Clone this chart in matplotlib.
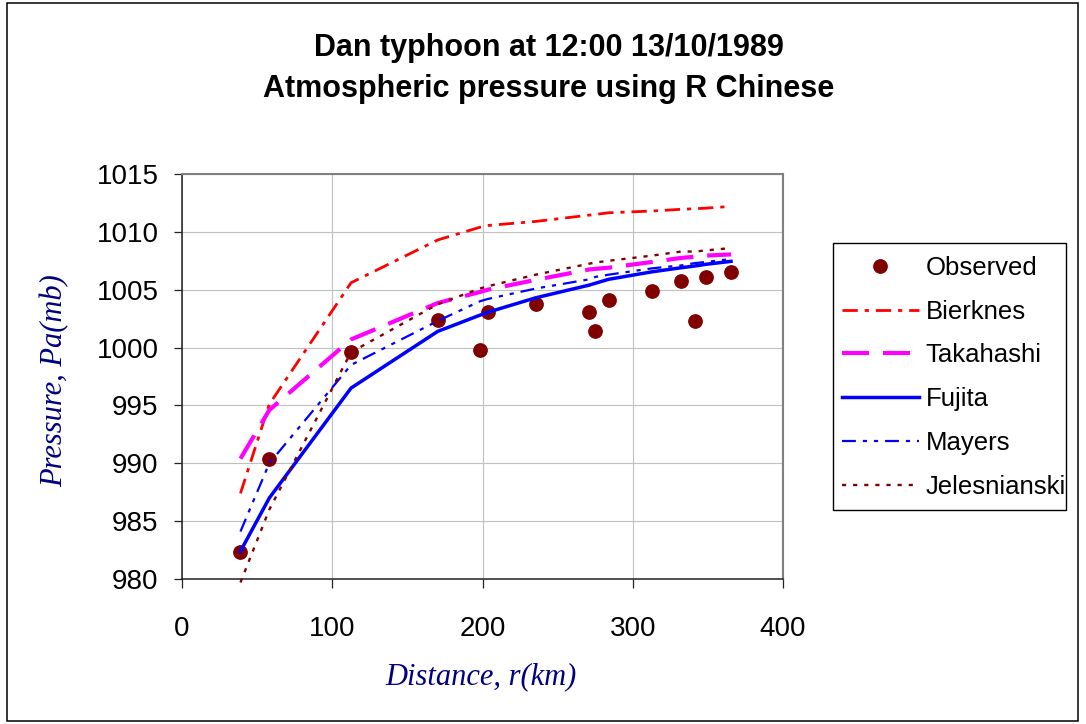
import matplotlib
matplotlib.use("Agg")
import matplotlib.pyplot as plt
from matplotlib.patches import Rectangle

plt.rcParams["font.family"] = ["Liberation Sans", "DejaVu Sans"]
plt.rcParams["lines.scale_dashes"] = False

# distance from typhoon centre (km), one value per station
distance = [38.9, 58.1, 112.5, 170.2, 198.3, 203.5, 235.4, 271.1, 274.9,
            284.0, 313.0, 332.3, 341.4, 348.9, 365.4]

observed = [982.3, 990.4, 999.6, 1002.4, 999.8, 1003.1, 1003.8, 1003.1, 1001.4,
            1004.1, 1004.9, 1005.75, 1002.3, 1006.1, 1006.55]

bierknes = [987.4, 995.1, 1005.6, 1009.3, 1010.4, 1010.55, 1010.9, 1011.45, 1011.5,
            1011.65, 1011.8, 1011.95, 1012.0, 1012.05, 1012.2]
takahashi = [990.4, 994.6, 1000.7, 1003.85, 1004.8, 1005.0, 1005.85, 1006.75, 1006.8,
             1006.9, 1007.4, 1007.75, 1007.85, 1007.95, 1008.05]
fujita = [982.4, 987.0, 996.5, 1001.4, 1002.8, 1003.05, 1004.3, 1005.4, 1005.55,
          1005.9, 1006.55, 1006.9, 1007.05, 1007.2, 1007.45]
mayers = [984.1, 990.0, 998.5, 1002.3, 1004.0, 1004.2, 1005.1, 1005.9, 1006.1,
          1006.3, 1006.85, 1007.1, 1007.3, 1007.4, 1007.65]
jelesnianski = [979.7, 986.0, 999.6, 1003.75, 1005.1, 1005.3, 1006.3, 1007.25, 1007.35,
                1007.5, 1007.95, 1008.3, 1008.3, 1008.4, 1008.6]

x_ticks = [0, 100, 200, 300, 400]
y_ticks = [980, 985, 990, 995, 1000, 1005, 1010, 1015]

W, H = 1086, 724
fig = plt.figure(figsize=(W / 100, H / 100), dpi=100)
ax = fig.add_axes([182 / W, 1 - 579 / H, (783 - 182) / W, (579 - 174) / H])

# outer chart border
fig.patches.append(Rectangle((7 / W, 3 / H), (1078 - 7) / W, (721 - 3) / H,
                             transform=fig.transFigure, fill=False,
                             edgecolor="black", linewidth=1.1))

ax.plot(distance, observed, linestyle="none", marker="o", markersize=9.6,
        color="#800000", label="Observed", zorder=3)
ax.plot(distance, bierknes, color="#FF0000", linewidth=2.0,
        linestyle=(0, (11, 5, 3, 5)), label="Bierknes", zorder=4)
ax.plot(distance, takahashi, color="#FF00FF", linewidth=3.0,
        linestyle=(0, (19.5, 10)), label="Takahashi", zorder=4)
ax.plot(distance, fujita, color="#0000FF", linewidth=2.5,
        linestyle="-", label="Fujita", zorder=4)
ax.plot(distance, mayers, color="#0000FF", linewidth=1.6,
        linestyle=(0, (10, 5, 3, 5, 3, 5)), label="Mayers", zorder=4)
ax.plot(distance, jelesnianski, color="#800000", linewidth=1.7,
        linestyle=(0, (3, 5)), label="Jelesnianski", zorder=4, clip_on=False)

ax.set_xlim(0, 400)
ax.set_ylim(980, 1015)
ax.set_xticks(x_ticks)
ax.set_yticks(y_ticks)
ax.grid(True, color="#C0C0C0", linewidth=0.8)
ax.set_axisbelow(True)

for side in ("left", "bottom"):
    ax.spines[side].set_color("#222222")
    ax.spines[side].set_linewidth(1.1)
for side in ("top", "right"):
    ax.spines[side].set_color("#808080")
    ax.spines[side].set_linewidth(1.5)

ax.tick_params(axis="y", direction="out", length=6, width=0.9, pad=11,
               labelsize=20, color="#222222")
ax.tick_params(axis="x", direction="out", length=6.5, width=0.9, pad=20,
               labelsize=20, color="#222222")

label_font = dict(family=["Liberation Serif", "DejaVu Serif"], style="italic",
                  size=22, color="#000080")
ax.set_xlabel("Distance, r(km)", **label_font)
ax.xaxis.set_label_coords((481 - 182) / (783 - 182), (579 - 677) / (579 - 174))
ax.xaxis.label.set_va("center")
ax.set_ylabel("Pressure, Pa(mb)", **label_font)
ax.yaxis.set_label_coords((55 - 182) / (783 - 182), (579 - 381) / (579 - 174))
ax.yaxis.label.set_va("center")

fig.text(549 / W, 1 - 48 / H, "Dan typhoon at 12:00 13/10/1989",
         ha="center", va="center", fontsize=22, fontweight="bold")
fig.text(549 / W, 1 - 89 / H, "Atmospheric pressure using R Chinese",
         ha="center", va="center", fontsize=22, fontweight="bold")

# legend frame drawn separately so the box keeps its size
fig.patches.append(Rectangle((833 / W, 1 - 510 / H), (1066 - 833) / W, (510 - 243) / H,
                             transform=fig.transFigure, fill=True, facecolor="white",
                             edgecolor="black", linewidth=1.0, zorder=1))
handles, labels = ax.get_legend_handles_labels()
leg = fig.legend(handles, labels, loc="upper left",
                 bbox_to_anchor=(829 / W, 1 - 243 / H), borderaxespad=0,
                 frameon=False, handlelength=3.0, handletextpad=0.27,
                 labelspacing=0.77, borderpad=0.5, fontsize=18.5, numpoints=1)
leg.set_zorder(5)

fig.savefig("out.png", dpi=100)
